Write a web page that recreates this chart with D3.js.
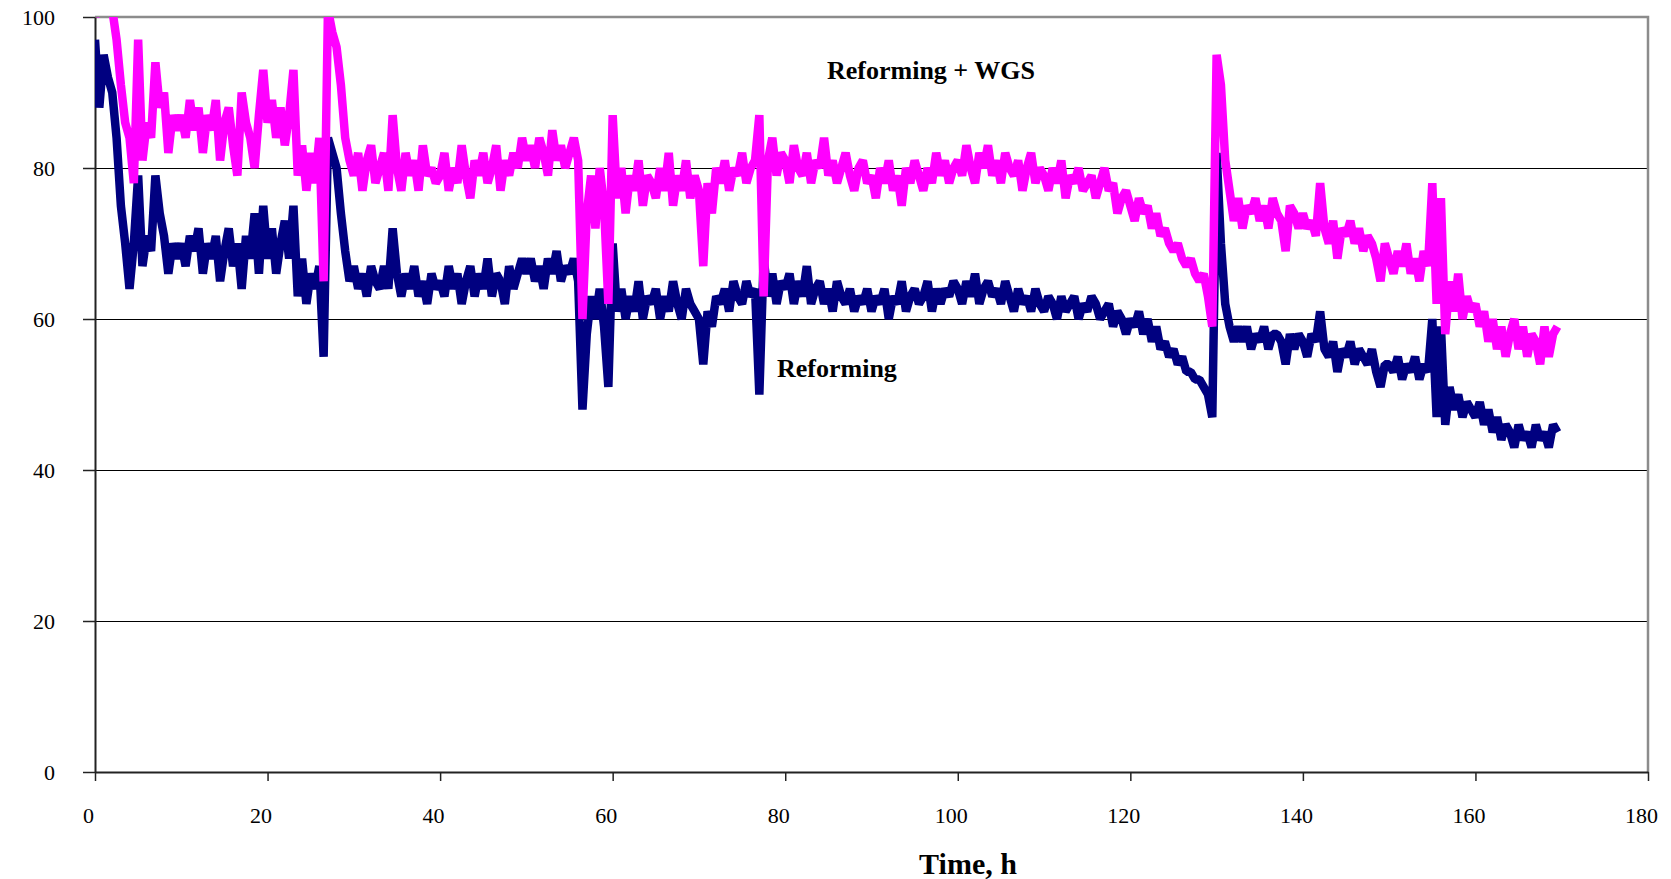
<!DOCTYPE html>
<meta charset="utf-8">

<!-- Load d3.js -->
<script src="https://d3js.org/d3.v7.js"></script>

<style>
  body { margin: 0; background: #fff; }
  text { font-family: "Liberation Serif", "Times New Roman", serif; }
</style>

<!-- Create a div where the graph will take place -->
<div id="my_dataviz"></div>

<script>

    // hours between two readings
    const timeStep = 0.5;

    // Reforming (one value every 0.5 h, from 0 h)
    const reforming = [
      97, 88, 95, 92, 90, 84, 75, 70, 64, 70, 79, 67, 71, 69, 79, 74, 71, 66, 70, 68,
      70, 67, 71, 69, 72, 66, 70, 68, 71, 65, 69, 72, 67, 70, 64, 71, 68, 74, 66, 75,
      68, 72, 66, 70, 73, 68, 75, 63, 68, 62, 66, 64, 67, 55, 84, 82, 80, 74, 69, 65,
      67, 64, 66, 63, 67, 65, 64, 67, 64, 72, 66, 63, 66, 64, 67, 63, 65, 62, 66, 64,
      65, 63, 67, 64, 66, 62, 65, 67, 63, 66, 64, 68, 63, 66, 65, 62, 67, 64, 66, 68,
      66, 68, 65, 67, 64, 68, 66, 69, 65, 67, 66, 68, 65, 48, 58, 63, 60, 64, 59, 51,
      70, 61, 64, 60, 63, 61, 65, 60, 63, 62, 64, 60, 63, 61, 65, 62, 60, 64, 62, 61,
      60, 54, 61, 59, 63, 62, 64, 61, 65, 63, 62, 65, 63, 64, 50, 68, 63, 66, 62, 65,
      64, 66, 62, 65, 63, 67, 62, 64, 65, 62, 64, 61, 65, 63, 62, 64, 61, 63, 62, 64,
      61, 63, 62, 64, 60, 63, 62, 65, 61, 63, 64, 62, 63, 65, 61, 64, 62, 64, 63, 65,
      64, 62, 65, 63, 66, 62, 64, 65, 63, 64, 62, 65, 63, 61, 64, 62, 63, 61, 64, 62,
      61, 63, 62, 60, 63, 61, 62, 63, 60, 62, 61, 63, 62, 60, 61, 62, 59, 61, 60, 58,
      60, 59, 61, 58, 60, 57, 59, 56, 57, 55, 56, 54, 55, 53, 53, 52, 52, 51, 50, 47,
      82, 70, 62, 59, 57, 59, 57, 59, 56, 58, 57, 59, 56, 58, 58, 57, 54, 58, 56, 58,
      57, 55, 58, 57, 61, 56, 55, 57, 53, 56, 55, 57, 54, 56, 55, 54, 56, 53, 51, 54,
      54, 53, 55, 52, 54, 53, 55, 52, 54, 53, 60, 47, 59, 46, 51, 48, 50, 47, 49, 48,
      47, 49, 46, 48, 45, 47, 44, 46, 45, 43, 46, 44, 45, 43, 46, 44, 45, 43, 46, 45
    ];

    // Reforming + WGS
    const reformingWgs = [
      100, 103, 102, 101, 101, 97, 91, 86, 84, 78, 97, 81, 86, 84, 94, 88, 90, 82, 87, 85,
      87, 84, 89, 85, 88, 82, 87, 85, 89, 81, 86, 88, 83, 79, 90, 86, 84, 80, 87, 93,
      86, 89, 84, 88, 83, 87, 93, 79, 83, 77, 82, 78, 84, 65, 101, 98, 96, 91, 84, 81,
      79, 82, 77, 81, 83, 78, 80, 82, 77, 87, 80, 77, 82, 79, 81, 77, 83, 79, 80, 78,
      79, 82, 77, 80, 78, 83, 79, 76, 81, 79, 82, 78, 80, 83, 77, 81, 79, 82, 80, 84,
      81, 83, 80, 84, 82, 79, 85, 81, 83, 80, 82, 84, 81, 60, 74, 79, 72, 80, 75, 62,
      87, 76, 80, 74, 79, 77, 81, 75, 79, 78, 76, 80, 77, 82, 75, 79, 77, 81, 76, 79,
      77, 67, 78, 74, 80, 78, 81, 77, 80, 79, 82, 78, 80, 81, 87, 63, 81, 84, 79, 82,
      81, 78, 83, 80, 79, 82, 78, 81, 80, 84, 79, 81, 78, 80, 82, 79, 77, 80, 81, 78,
      79, 76, 80, 78, 81, 77, 79, 75, 80, 78, 81, 79, 77, 80, 78, 82, 79, 81, 78, 80,
      81, 79, 83, 80, 78, 82, 80, 83, 79, 81, 78, 82, 80, 79, 81, 77, 80, 82, 78, 80,
      79, 77, 80, 78, 81, 76, 79, 78, 80, 77, 78, 79, 76, 78, 80, 77, 78, 74, 76, 77,
      75, 73, 76, 74, 75, 72, 74, 71, 72, 70, 69, 70, 68, 67, 68, 66, 65, 66, 63, 59,
      95, 91, 81, 77, 73, 76, 72, 75, 74, 76, 73, 75, 72, 76, 74, 73, 69, 75, 74, 72,
      74, 72, 73, 71, 78, 72, 70, 73, 68, 72, 71, 73, 70, 72, 69, 71, 70, 68, 65, 70,
      68, 66, 69, 67, 70, 66, 68, 65, 69, 67, 78, 62, 76, 58, 65, 61, 66, 60, 63, 61,
      62, 59, 61, 57, 60, 56, 59, 55, 58, 60, 56, 59, 55, 58, 57, 54, 59, 55, 58, 59
    ];

    const xTicks = [0, 20, 40, 60, 80, 100, 120, 140, 160, 180];
    const yTicks = [0, 20, 40, 60, 80, 100];

    // set the dimensions and margins of the graph
    const margin = {top: 17, right: 23, bottom: 107, left: 95},
        width = 1671 - margin.left - margin.right,
        height = 879 - margin.top - margin.bottom;

    // append the svg object to the body of the page
    const svg = d3.select("#my_dataviz")
      .append("svg")
        .attr("width", width + margin.left + margin.right)
        .attr("height", height + margin.top + margin.bottom)
      .append("g")
        .attr("transform", `translate(${margin.left}, ${margin.top})`);

    const x = d3.scaleLinear()
      .domain([0, 180])
      .range([0, width]);

    const y = d3.scaleLinear()
      .domain([0, 100])
      .range([height, 0]);

    // horizontal gridlines
    svg.append("g")
      .selectAll("line")
      .data(yTicks.filter(d => d > 0 && d < 100))
      .join("line")
        .attr("x1", 0)
        .attr("x2", width)
        .attr("y1", d => y(d) + 0.5)
        .attr("y2", d => y(d) + 0.5)
        .attr("stroke", "#000")
        .attr("stroke-width", 1);

    // grey frame on top and right
    svg.append("path")
      .attr("d", `M0,${y(100)}H${x(180)}V${y(0)}`)
      .attr("fill", "none")
      .attr("stroke", "#8c8c8c")
      .attr("stroke-width", 2.5);

    // X axis
    const xAxis = svg.append("g")
      .attr("transform", `translate(0, ${height})`)
      .call(d3.axisBottom(x).tickValues(xTicks).tickSize(9).tickSizeOuter(0).tickPadding(26));
    xAxis.selectAll("text")
      .attr("dx", -7)
      .style("font-size", "22px")
      .style("fill", "#000");

    // Y axis
    const yAxis = svg.append("g")
      .call(d3.axisLeft(y).tickValues(yTicks).tickSize(12).tickSizeOuter(0).tickPadding(28));
    yAxis.selectAll("text")
      .style("font-size", "22px")
      .style("fill", "#000");

    svg.selectAll(".domain").attr("stroke", "#222").attr("stroke-width", 2);
    svg.selectAll(".tick line").attr("stroke", "#222").attr("stroke-width", 1.5);

    // clip the series to the plot area
    svg.append("clipPath")
        .attr("id", "plot-clip")
      .append("rect")
        .attr("x", 0)
        .attr("y", 0)
        .attr("width", width)
        .attr("height", height);

    const line = d3.line()
      .x((d, i) => x(i * timeStep))
      .y(d => y(d));

    svg.append("path")
      .datum(reforming)
      .attr("clip-path", "url(#plot-clip)")
      .attr("fill", "none")
      .attr("stroke", "#000080")
      .attr("stroke-width", 8.5)
      .attr("stroke-linejoin", "bevel")
      .attr("d", line);

    svg.append("path")
      .datum(reformingWgs)
      .attr("clip-path", "url(#plot-clip)")
      .attr("fill", "none")
      .attr("stroke", "#ff00ff")
      .attr("stroke-width", 8.5)
      .attr("stroke-linejoin", "bevel")
      .attr("d", line);

    // series labels
    svg.append("text")
      .attr("x", 732)
      .attr("y", 62)
      .style("font-size", "26px")
      .style("font-weight", "bold")
      .text("Reforming + WGS");

    svg.append("text")
      .attr("x", 682)
      .attr("y", 360)
      .style("font-size", "26px")
      .style("font-weight", "bold")
      .text("Reforming");

    // X axis title
    svg.append("text")
      .attr("x", 873)
      .attr("y", height + 102)
      .style("text-anchor", "middle")
      .style("font-size", "30px")
      .style("font-weight", "bold")
      .text("Time, h");

</script>
